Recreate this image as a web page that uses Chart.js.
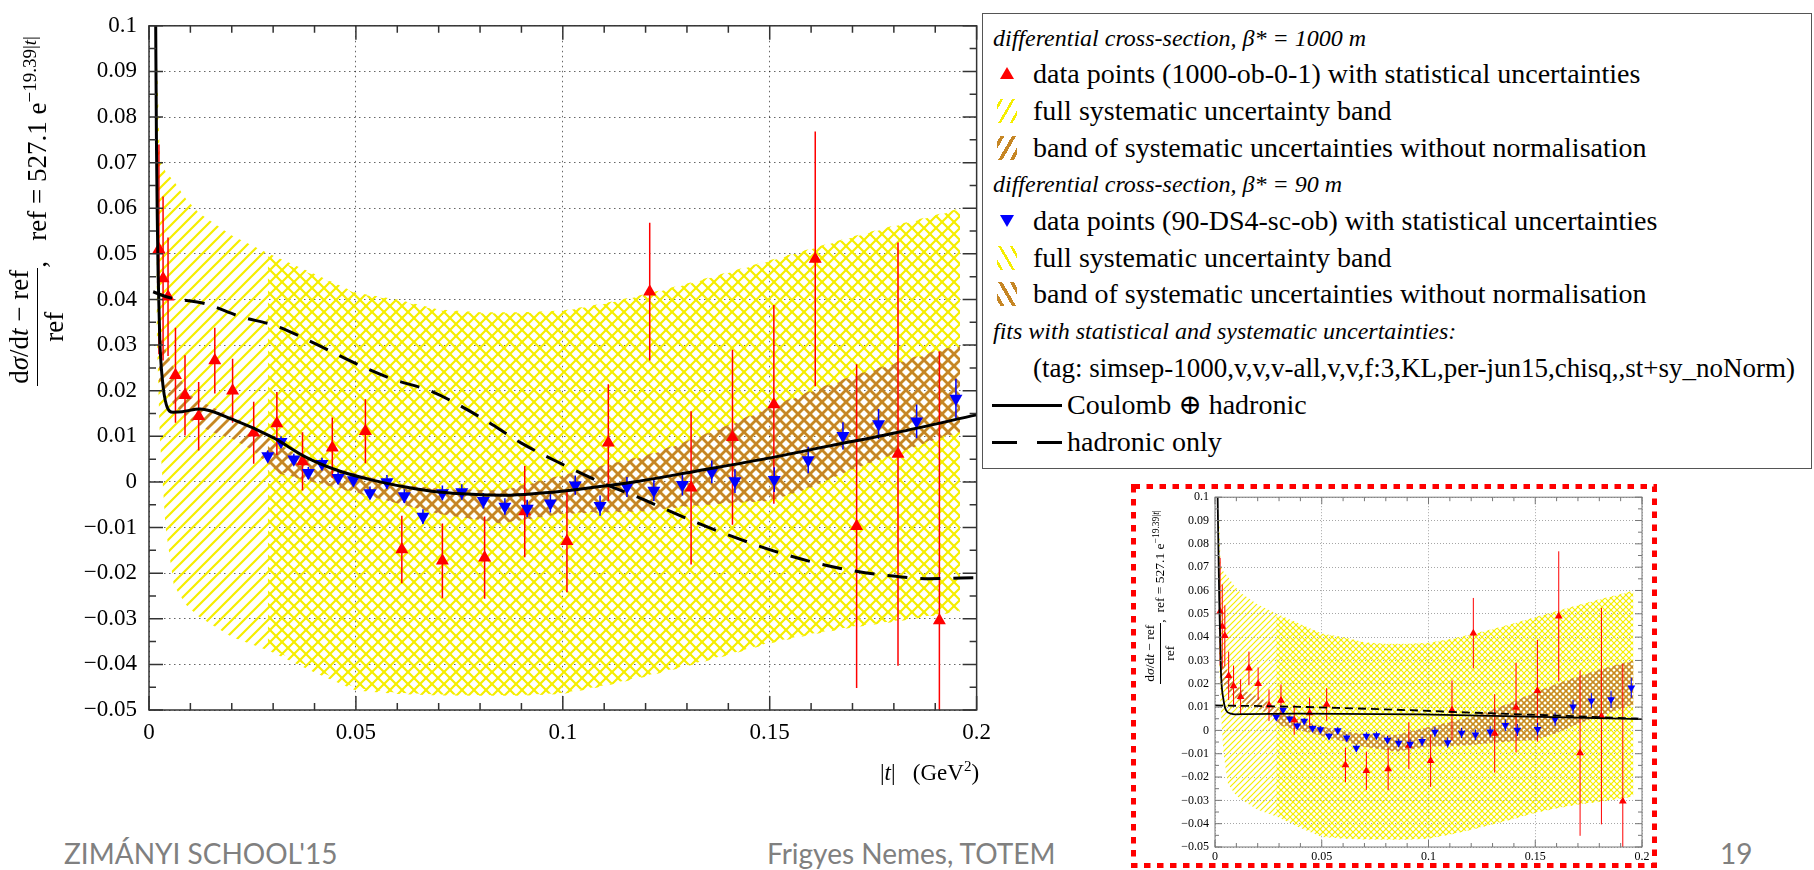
<!DOCTYPE html>
<html>
<head>
<meta charset="utf-8">
<title>dsigma/dt relative to reference</title>
<script src="https://cdn.jsdelivr.net/npm/chart.js@4.4.1/dist/chart.umd.min.js"></script>
<style>
  html, body { margin: 0; padding: 0; background: #fff; }
  body { width: 1814px; height: 870px; position: relative; overflow: hidden;
         font-family: "Liberation Serif", "DejaVu Serif", serif; color: #000; }
  canvas { position: absolute; }
  #main { left: 0; top: 0; }
  #inset { left: 1131px; top: 484px; }
  .abs { position: absolute; white-space: nowrap; }
  .ytitle { display: flex; align-items: center; justify-content: center; transform: rotate(-90deg); }
  .frac { display: inline-flex; flex-direction: column; align-items: center; }
  .frac .num { border-bottom: 1.3px solid #000; padding: 0 2px 2px 2px; }
  .frac .den { padding-top: 1px; }
  sup { line-height: 0; }
  #legend { position: absolute; left: 982px; top: 13px; width: 830px; height: 456px;
            box-sizing: border-box; border: 1.5px solid #555; background: #fff; }
  .row { position: absolute; height: 30px; line-height: 30px; font-size: 28px; white-space: nowrap; }
  .hdr { font-style: italic; font-size: 24px; }
  .tri-up { position: absolute; width: 0; height: 0; border-left: 7px solid transparent;
            border-right: 7px solid transparent; border-bottom: 12px solid #f00; }
  .tri-dn { position: absolute; width: 0; height: 0; border-left: 7px solid transparent;
            border-right: 7px solid transparent; border-top: 12px solid #00f; }
  .hicon { position: absolute; width: 20px; height: 24px; }
  .foot { position: absolute; font-family: Lato, "Open Sans", sans-serif; font-size: 28px;
          color: #808080; line-height: 28px; white-space: nowrap; }
</style>
</head>
<body>
<canvas id="main" width="1000" height="800"></canvas>
<canvas id="inset" width="526" height="384"></canvas>

<!-- axis titles, main plot -->
<div class="abs ytitle" style="left:-178px; top:176px; width:430px; height:70px; font-size:27px;">
  <span class="frac"><span class="num">d<i>σ</i>/d<i>t</i> − ref</span><span class="den">ref</span></span><span>,&nbsp;&nbsp;&nbsp;ref = 527.1 e<sup style="font-size:19px">−19.39|<i>t</i>|</sup></span>
</div>
<div class="abs" style="left:880px; top:759px; font-size:23px; line-height:28px;">|<i>t</i>|&nbsp;&nbsp;&nbsp;(GeV<sup style="font-size:15px">2</sup>)</div>

<!-- axis title, inset -->
<div class="abs ytitle" style="left:1040px; top:580px; width:240px; height:34px; font-size:13.5px;">
  <span class="frac"><span class="num">d<i>σ</i>/d<i>t</i> − ref</span><span class="den">ref</span></span><span>,&nbsp;&nbsp;ref = 527.1 e<sup style="font-size:9.5px">−19.39|<i>t</i>|</sup></span>
</div>

<!-- legend -->
<div id="legend"></div>
<div class="row hdr" style="left:993px; top:23px;">differential cross-section, <i>β</i>* = 1000 m</div>
<div class="tri-up" style="left:1000px; top:67px;"></div>
<div class="row" style="left:1033px; top:59px;">data points (1000-ob-0-1) with statistical uncertainties</div>
<div class="hicon" style="left:997px; top:99px; background:repeating-linear-gradient(120deg, transparent 0 3px, rgb(245,238,0) 3px 5.5px, transparent 5.5px 10px);"></div>
<div class="row" style="left:1033px; top:96px;">full systematic uncertainty band</div>
<div class="hicon" style="left:997px; top:136px; background:repeating-linear-gradient(120deg, transparent 0 3px, rgb(198,134,36) 3px 6.5px, transparent 6.5px 10px);"></div>
<div class="row" style="left:1033px; top:133px;">band of systematic uncertainties without normalisation</div>
<div class="row hdr" style="left:993px; top:169px;">differential cross-section, <i>β</i>* = 90 m</div>
<div class="tri-dn" style="left:1000px; top:215px;"></div>
<div class="row" style="left:1033px; top:206px;">data points (90-DS4-sc-ob) with statistical uncertainties</div>
<div class="hicon" style="left:997px; top:246px; background:repeating-linear-gradient(60deg, transparent 0 3px, rgb(245,238,0) 3px 5.5px, transparent 5.5px 10px);"></div>
<div class="row" style="left:1033px; top:243px;">full systematic uncertainty band</div>
<div class="hicon" style="left:997px; top:282px; background:repeating-linear-gradient(60deg, transparent 0 3px, rgb(198,134,36) 3px 6.5px, transparent 6.5px 10px);"></div>
<div class="row" style="left:1033px; top:279px;">band of systematic uncertainties without normalisation</div>
<div class="row hdr" style="left:993px; top:316px;">fits with statistical and systematic uncertainties:</div>
<div class="row" style="left:1033px; top:353px; font-size:27px;">(tag: simsep-1000,v,v,v-all,v,v,f:3,KL,per-jun15,chisq,,st+sy_noNorm)</div>
<div class="abs" style="left:992px; top:404px; width:70px; height:3px; background:#000;"></div>
<div class="row" style="left:1067px; top:390px;">Coulomb ⊕ hadronic</div>
<div class="abs" style="left:992px; top:441px; width:25px; height:3px; background:#000;"></div>
<div class="abs" style="left:1037px; top:441px; width:25px; height:3px; background:#000;"></div>
<div class="row" style="left:1067px; top:427px;">hadronic only</div>

<!-- slide footer -->
<div class="foot" style="left:64px; top:839px;">ZIMÁNYI SCHOOL'15</div>
<div class="foot" style="left:767px; top:839px;">Frigyes Nemes, TOTEM</div>
<div class="foot" style="left:1720px; top:839px;">19</div>

<script>
// data points, beta* = 1000 m (red up triangles)
const t1000 = [0.0024, 0.0034, 0.0046, 0.0064, 0.0087, 0.012, 0.0159, 0.0202, 0.0253, 0.0309, 0.0371, 0.0443, 0.0523, 0.0611,
               0.0709, 0.0811, 0.0908, 0.101, 0.111, 0.121, 0.131, 0.141, 0.151, 0.161, 0.171, 0.181, 0.191];
const v1000 = [0.051, 0.0446, 0.0406, 0.0234, 0.019, 0.0144, 0.0266, 0.020, 0.0108, 0.0128, 0.0045, 0.0075, 0.0111, -0.0148,
               -0.0173, -0.0166, -0.0065, -0.013, 0.0086, 0.0417, -0.0013, 0.0098, 0.017, 0.0489, -0.0097, 0.0061, -0.0304];
const e1000 = [0.023, 0.018, 0.013, 0.0104, 0.0088, 0.0075, 0.0072, 0.007, 0.0068, 0.0069, 0.0064, 0.0066, 0.007, 0.0074,
               0.0082, 0.009, 0.010, 0.0112, 0.0128, 0.0151, 0.0168, 0.0192, 0.0218, 0.0279, 0.0355, 0.0464, 0.059];

// data points, beta* = 90 m (blue down triangles)
const t90 = [0.0287, 0.0319, 0.035, 0.0385, 0.0418, 0.0457, 0.0494, 0.0534, 0.0575, 0.0617, 0.0662, 0.0709, 0.0756, 0.0808, 0.086,
             0.0914, 0.097, 0.103, 0.109, 0.1155, 0.122, 0.1289, 0.136, 0.1416, 0.1511, 0.1593, 0.1677, 0.1763, 0.1855, 0.195];
const v90 = [0.0057, 0.0088, 0.005, 0.002, 0.004, 0.0009, 0.0004, -0.0024, 0.0, -0.0031, -0.0076, -0.0024, -0.0022, -0.0041, -0.0054,
             -0.0058, -0.0047, -0.0007, -0.0052, -0.0011, -0.0019, -0.0006, 0.0022, 0.0002, 0.0005, 0.0048, 0.0101, 0.0127, 0.0133, 0.0183];
const e90 = [0.0012, 0.0012, 0.0012, 0.0013, 0.0013, 0.0013, 0.0014, 0.0014, 0.0015, 0.0015, 0.0016, 0.0016, 0.0017, 0.0017, 0.0018,
             0.0019, 0.002, 0.0021, 0.0022, 0.0022, 0.0023, 0.0024, 0.0025, 0.0026, 0.0027, 0.0029, 0.003, 0.0033, 0.0037, 0.0043];

// full systematic bands
const sys1000T  = [0.0018, 0.0026, 0.004, 0.006, 0.009, 0.012, 0.02, 0.029, 0.04, 0.05, 0.06, 0.07, 0.08, 0.09, 0.1, 0.11, 0.12,
                   0.13, 0.14, 0.15, 0.16, 0.17, 0.18, 0.19, 0.196];
const sys1000Hi = [0.097, 0.071, 0.068, 0.066, 0.062, 0.059, 0.054, 0.050, 0.0456, 0.0415, 0.040, 0.0378, 0.0372, 0.0372, 0.0376,
                   0.0392, 0.0412, 0.0435, 0.046, 0.0486, 0.0512, 0.0538, 0.0562, 0.0585, 0.060];
const sys1000Lo = [0.035, 0.010, -0.010, -0.0227, -0.027, -0.0295, -0.034, -0.037, -0.0418, -0.0457, -0.0465, -0.0468, -0.0469,
                   -0.0469, -0.0465, -0.0448, -0.0427, -0.0404, -0.038, -0.0354, -0.0335, -0.0319, -0.0307, -0.0293, -0.0284];
const sys90T  = [0.0287, 0.035, 0.04, 0.05, 0.06, 0.07, 0.08, 0.09, 0.1, 0.11, 0.12, 0.13, 0.14, 0.15, 0.16, 0.17, 0.18, 0.19, 0.196];
const sys90Hi = [0.0495, 0.047, 0.0453, 0.0413, 0.0398, 0.0376, 0.037, 0.037, 0.0374, 0.039, 0.041, 0.0433, 0.0458, 0.0484, 0.051,
                 0.0536, 0.056, 0.0583, 0.0598];
const sys90Lo = [-0.0363, -0.039, -0.041, -0.0452, -0.0462, -0.0466, -0.0467, -0.0467, -0.0463, -0.0446, -0.0425, -0.0402, -0.0378,
                 -0.0352, -0.0333, -0.0317, -0.0305, -0.0291, -0.0282];

// systematic bands without normalisation
const noNorm1000T  = [0.0024, 0.004, 0.006, 0.01, 0.015, 0.02, 0.025, 0.03, 0.036, 0.045, 0.06, 0.07, 0.085, 0.1, 0.12, 0.13, 0.14,
                      0.15, 0.16, 0.17, 0.18, 0.19, 0.196];
const noNorm1000Hi = [0.034, 0.029, 0.025, 0.019, 0.0165, 0.0145, 0.012, 0.009, 0.0058, 0.003, -0.0004, -0.0015, -0.0019, 0.0015,
                      0.0058, 0.009, 0.0125, 0.0165, 0.020, 0.0232, 0.0261, 0.0287, 0.030];
const noNorm1000Lo = [0.022, 0.020, 0.017, 0.0135, 0.011, 0.0095, 0.007, 0.003, 0.0007, -0.001, -0.0047, -0.007, -0.009, -0.0068,
                      -0.0062, -0.0052, -0.0045, -0.004, -0.001, 0.003, 0.0062, 0.0095, 0.0111];
const noNorm90T  = [0.0287, 0.036, 0.045, 0.06, 0.07, 0.085, 0.1, 0.12, 0.13, 0.14, 0.15, 0.16, 0.17, 0.18, 0.19, 0.196];
const noNorm90Hi = [0.0085, 0.0056, 0.0029, -0.0005, -0.0016, -0.002, 0.0013, 0.0055, 0.0088, 0.0122, 0.0162, 0.0197, 0.0229,
                    0.0258, 0.0284, 0.0297];
const noNorm90Lo = [0.0024, 0.0008, -0.0012, -0.0047, -0.007, -0.0091, -0.007, -0.0064, -0.0054, -0.0047, -0.0042, -0.0012, 0.0028,
                    0.006, 0.0093, 0.0109];

// fits (main plot)
const coulombT = [0.0016, 0.0018, 0.002, 0.0022, 0.0026, 0.0032, 0.0042, 0.0058, 0.008, 0.0123, 0.0202, 0.03, 0.038, 0.046, 0.054,
                  0.062, 0.07, 0.078, 0.086, 0.094, 0.102, 0.11, 0.118, 0.1324, 0.1485, 0.1645, 0.1805, 0.2];
const coulombV = [0.103, 0.0745, 0.058, 0.0457, 0.0313, 0.0227, 0.0169, 0.0153, 0.0154, 0.016, 0.0137, 0.0097, 0.0054, 0.0024,
                  0.0004, -0.0011, -0.0022, -0.0027, -0.0029, -0.0025, -0.0018, -0.0009, 0.0001, 0.0024, 0.005, 0.0079, 0.0108, 0.0147];
const hadronicT = [0.001, 0.0042, 0.0139, 0.0219, 0.0307, 0.0395, 0.0494, 0.0587, 0.0684, 0.0804, 0.09, 0.0996, 0.11, 0.118, 0.1325,
                   0.1429, 0.1509, 0.1605, 0.1709, 0.1805, 0.1886, 0.2];
const hadronicV = [0.0417, 0.0406, 0.039, 0.0363, 0.0342, 0.0306, 0.0262, 0.0226, 0.0198, 0.014, 0.0085, 0.004, -0.0004, -0.0033,
                   -0.009, -0.0126, -0.0151, -0.0176, -0.0196, -0.0207, -0.0212, -0.021];

// fits (inset picture)
const insetCoulombT = [0.0012, 0.002, 0.0028, 0.004, 0.0052, 0.0075, 0.0094, 0.015, 0.0384, 0.0963, 0.1524, 0.2];
const insetCoulombV = [0.102, 0.055, 0.0248, 0.013, 0.0086, 0.0072, 0.0069, 0.007, 0.0072, 0.0069, 0.0058, 0.0048];
const insetHadronicT = [0, 0.03, 0.059, 0.09, 0.121, 0.162, 0.2];
const insetHadronicV = [0.0107, 0.0103, 0.0096, 0.0087, 0.0076, 0.0063, 0.005];

// axes
const xMin = 0, xMax = 0.2, xStep = 0.05;
const yMin = -0.05, yMax = 0.1, yStep = 0.01;
const xTickLabels = ['0', '0.05', '0.1', '0.15', '0.2'];
const yTickLabels = ['−0.05', '−0.04', '−0.03', '−0.02', '−0.01', '0', '0.01', '0.02', '0.03', '0.04', '0.05', '0.06', '0.07',
                     '0.08', '0.09', '0.1'];

const yellow = 'rgb(245,238,0)';
const brown = 'rgb(198,134,36)';

function hatch(ctx, color, dir, gap, width) {
  const c = document.createElement('canvas');
  c.width = gap; c.height = gap;
  const g = c.getContext('2d');
  g.strokeStyle = color;
  g.lineWidth = width;
  g.beginPath();
  for (const o of [-gap, 0, gap]) {
    if (dir === '/') { g.moveTo(o - 1, gap + 1); g.lineTo(o + gap + 1, -1); }
    else { g.moveTo(o - 1, -1); g.lineTo(o + gap + 1, gap + 1); }
  }
  g.stroke();
  return ctx.createPattern(c, 'repeat');
}

const pts = (xs, ys) => xs.map((x, i) => ({x, y: ys[i]}));
const bars = (xs, ys, es) => xs.flatMap((x, i) => [{x, y: ys[i] - es[i]}, {x, y: ys[i] + es[i]}, {x, y: null}]);

function buildDatasets(ctx, s) {
  const band = (xs, hi, lo, pattern, order) => [
    {data: pts(xs, hi), fill: '+1', backgroundColor: pattern, borderWidth: 0, pointRadius: 0, order},
    {data: pts(xs, lo), fill: false, borderWidth: 0, pointRadius: 0, order}
  ];
  return [
    ...band(sys1000T, sys1000Hi, sys1000Lo, hatch(ctx, yellow, '/', s.gap, s.yw), 10),
    ...band(sys90T, sys90Hi, sys90Lo, hatch(ctx, yellow, '\\', s.gap, s.yw), 9),
    ...band(noNorm1000T, noNorm1000Hi, noNorm1000Lo, hatch(ctx, brown, '/', s.gap, s.bw), 8),
    ...band(noNorm90T, noNorm90Hi, noNorm90Lo, hatch(ctx, brown, '\\', s.gap, s.bw), 7),
    {data: bars(t1000, v1000, e1000), borderColor: '#f00', borderWidth: s.ew, pointRadius: 0, spanGaps: false, order: 6},
    {data: bars(t90, v90, e90), borderColor: '#00f', borderWidth: s.ew, pointRadius: 0, spanGaps: false, order: 5},
    {data: pts(t1000, v1000), showLine: false, pointStyle: 'triangle', pointRadius: s.r1,
     pointBackgroundColor: '#f00', pointBorderWidth: 0, order: 4},
    {data: pts(t90, v90), showLine: false, pointStyle: 'triangle', pointRotation: 180, pointRadius: s.r2,
     pointBackgroundColor: '#00f', pointBorderWidth: 0, order: 3},
    {data: pts(s.cT, s.cV), borderColor: '#000', borderWidth: s.lw, pointRadius: 0, cubicInterpolationMode: 'monotone', order: 2},
    {data: pts(s.hT, s.hV), borderColor: '#000', borderWidth: s.lw, borderDash: s.dash, pointRadius: 0,
     cubicInterpolationMode: 'monotone', order: 1}
  ];
}

// frame with inward major/minor ticks on all four sides
const frameTicks = {
  id: 'frameTicks',
  afterDraw(chart, args, o) {
    const {ctx, chartArea: a, scales: {x, y}} = chart;
    const isMajor = (v, step) => Math.abs(v / step - Math.round(v / step)) < 1e-6;
    ctx.save();
    ctx.strokeStyle = o.color;
    ctx.lineWidth = o.width;
    ctx.beginPath();
    for (let i = 0; x.min + i * o.xMinor <= x.max + 1e-9; i++) {
      const v = x.min + i * o.xMinor, p = x.getPixelForValue(v);
      const len = isMajor(v, o.xMajor) ? o.majorLen : o.minorLen;
      ctx.moveTo(p, a.bottom); ctx.lineTo(p, a.bottom - len);
      ctx.moveTo(p, a.top); ctx.lineTo(p, a.top + len);
    }
    for (let i = 0; y.min + i * o.yMinor <= y.max + 1e-9; i++) {
      const v = y.min + i * o.yMinor, p = y.getPixelForValue(v);
      const len = isMajor(v, o.yMajor) ? o.majorLen : o.minorLen;
      ctx.moveTo(a.left, p); ctx.lineTo(a.left + len, p);
      ctx.moveTo(a.right, p); ctx.lineTo(a.right - len, p);
    }
    ctx.stroke();
    ctx.strokeRect(a.left, a.top, a.right - a.left, a.bottom - a.top);
    ctx.restore();
  }
};

// red dotted frame round the inset picture
const dottedBorder = {
  id: 'dottedBorder',
  afterDraw(chart, args, o) {
    const {ctx, width, height} = chart;
    ctx.save();
    ctx.strokeStyle = o.color;
    ctx.lineWidth = o.width;
    ctx.setLineDash(o.dash);
    ctx.strokeRect(o.width / 2, o.width / 2, width - o.width, height - o.width);
    ctx.restore();
  }
};

function makeChart(id, s) {
  const canvas = document.getElementById(id);
  const ctx = canvas.getContext('2d');
  return new Chart(canvas, {
    type: 'line',
    data: {datasets: buildDatasets(ctx, s)},
    options: {
      responsive: false,
      animation: false,
      devicePixelRatio: 1,
      events: [],
      layout: {padding: s.padding},
      plugins: {
        legend: {display: false},
        tooltip: {enabled: false},
        frameTicks: s.frame,
        dottedBorder: s.dotted || false
      },
      scales: {
        x: {
          type: 'linear', min: xMin, max: xMax,
          ticks: {stepSize: xStep, autoSkip: false, maxRotation: 0, padding: s.xPad, color: '#000',
                  font: {family: 'Liberation Serif', size: s.font},
                  callback: v => xTickLabels[Math.round((v - xMin) / xStep)]},
          grid: {drawTicks: false, color: s.gridColor, lineWidth: 1},
          border: {display: false, dash: s.gridDash},
          afterFit: sc => { sc.height = s.xHeight; }
        },
        y: {
          type: 'linear', min: yMin, max: yMax,
          ticks: {stepSize: yStep, autoSkip: false, padding: s.yPad, color: '#000',
                  font: {family: 'Liberation Serif', size: s.font},
                  callback: v => yTickLabels[Math.round((v - yMin) / yStep)]},
          grid: {drawTicks: false, color: s.gridColor, lineWidth: 1},
          border: {display: false, dash: s.gridDash},
          afterFit: sc => { sc.width = s.yWidth; }
        }
      }
    },
    plugins: s.dotted ? [frameTicks, dottedBorder] : [frameTicks]
  });
}

makeChart('main', {
  gap: 12, yw: 2.2, bw: 2.7, ew: 1.5, r1: 7.5, r2: 7.5, lw: 3, dash: [20, 13],
  cT: coulombT, cV: coulombV, hT: hadronicT, hV: hadronicV,
  padding: {left: 0, top: 15, right: 19, bottom: 0},
  xHeight: 90, yWidth: 149, xPad: 9, yPad: 12, font: 23,
  gridColor: 'rgba(0,0,0,0.6)', gridDash: [1.5, 3.5],
  frame: {color: '#333', width: 1.5, xMinor: 0.01, xMajor: 0.05, yMinor: 0.005, yMajor: 0.01, majorLen: 14, minorLen: 7}
});

makeChart('inset', {
  gap: 6, yw: 1.2, bw: 1.5, ew: 1, r1: 4.5, r2: 4.5, lw: 1.8, dash: [8, 5],
  cT: insetCoulombT, cV: insetCoulombV, hT: insetHadronicT, hV: insetHadronicV,
  padding: {left: 0, top: 8, right: 15, bottom: 0},
  xHeight: 21, yWidth: 84, xPad: 3, yPad: 6, font: 12,
  gridColor: 'rgba(0,0,0,0.35)', gridDash: [1, 2],
  frame: {color: '#777', width: 1, xMinor: 0.01, xMajor: 0.05, yMinor: 0.005, yMajor: 0.01, majorLen: 7, minorLen: 4},
  dotted: {color: '#f00', width: 5, dash: [6.5, 6.5]}
});
</script>
</body>
</html>
